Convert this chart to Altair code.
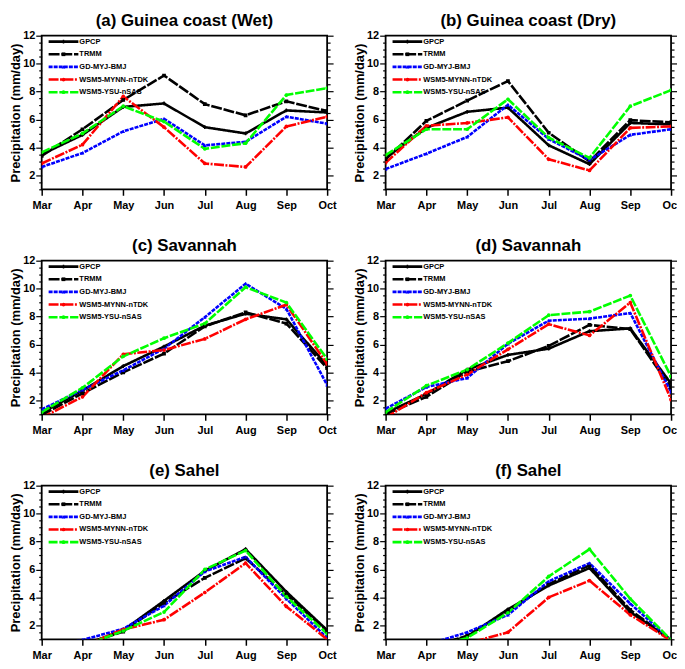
import altair as alt
import pandas as pd

months = ["Mar", "Apr", "May", "Jun", "Jul", "Aug", "Sep", "Oct"]
series = ["GPCP", "TRMM", "GD-MYJ-BMJ", "WSM5-MYNN-nTDK", "WSM5-YSU-nSAS"]
colors = ["#000000", "#000000", "#0000FF", "#FF0000", "#00FF00"]
dashes = [[1, 0], [11, 1.8], [4, 1.1], [10, 1.5, 2, 1.5], [9, 1.8]]
shapes = ["cross", "square", "triangle-up", "circle", "circle"]
widths = [2.6, 2.6, 2.2, 2.2, 2.2]

titles = ["(a) Guinea coast (Wet)", "(b) Guinea coast (Dry)", "(c) Savannah",
          "(d) Savannah", "(e) Sahel", "(f) Sahel"]

# values (mm/day), order: Mar..Oct
a_gpcp = [3.5, 4.9, 6.9, 7.15, 5.45, 5.0, 6.65, 6.5]
a_trmm = [3.4, 5.3, 7.4, 9.15, 7.1, 6.3, 7.3, 6.6]
a_gd = [2.6, 3.6, 5.15, 6.05, 4.15, 4.4, 6.2, 5.7]
a_mynn = [2.85, 4.2, 7.65, 5.45, 2.85, 2.6, 5.5, 6.2]
a_ysu = [3.65, 5.0, 6.95, 5.85, 3.9, 4.3, 7.75, 8.25]

b_gpcp = [3.25, 5.4, 6.55, 6.85, 4.15, 2.8, 5.75, 5.65]
b_trmm = [3.15, 5.9, 7.35, 8.75, 5.05, 3.0, 5.95, 5.8]
b_gd = [2.45, 3.55, 4.75, 7.05, 4.6, 3.1, 4.9, 5.3]
b_mynn = [2.9, 5.55, 5.75, 6.15, 3.15, 2.35, 5.4, 5.5]
b_ysu = [3.45, 5.3, 5.3, 7.45, 4.7, 3.25, 6.95, 8.1]

c_gpcp = [1.1, 2.7, 4.45, 5.85, 7.35, 8.2, 7.8, 4.5]
c_trmm = [0.95, 2.5, 4.0, 5.35, 7.3, 8.3, 7.5, 4.3]
c_gd = [1.35, 2.75, 4.15, 5.7, 7.95, 10.35, 8.55, 3.1]
c_mynn = [0.75, 2.25, 5.3, 5.6, 6.4, 7.8, 8.85, 4.6]
c_ysu = [1.15, 2.9, 5.15, 6.45, 7.5, 10.1, 9.0, 4.95]

d_gpcp = [1.1, 2.45, 4.2, 5.25, 5.7, 6.95, 7.15, 3.2]
d_trmm = [1.0, 2.25, 4.05, 4.8, 5.9, 7.4, 7.1, 2.9]
d_gd = [1.4, 2.95, 3.6, 6.05, 7.7, 7.85, 8.25, 2.6]
d_mynn = [0.75, 2.55, 3.85, 5.65, 7.45, 6.65, 9.0, 2.05]
d_ysu = [1.15, 3.05, 4.2, 6.1, 8.1, 8.35, 9.5, 3.7]

e_gpcp = [0.3, 0.55, 1.65, 3.75, 5.9, 7.45, 4.4, 1.65]
e_trmm = [0.3, 0.6, 1.55, 3.6, 5.4, 6.8, 4.2, 1.6]
e_gd = [0.5, 0.95, 1.75, 3.4, 5.85, 6.9, 3.9, 1.1]
e_mynn = [0.3, 0.5, 1.7, 2.4, 4.35, 6.45, 3.35, 1.0]
e_ysu = [0.3, 0.5, 1.6, 2.95, 6.0, 7.35, 4.05, 1.4]

f_gpcp = [0.2, 0.35, 1.2, 3.15, 4.85, 6.1, 2.95, 0.95]
f_trmm = [0.2, 0.35, 1.25, 3.0, 4.95, 6.3, 3.1, 0.95]
f_gd = [0.3, 0.6, 1.5, 2.75, 5.15, 6.45, 3.55, 0.95]
f_mynn = [0.2, 0.4, 0.7, 1.5, 4.0, 5.2, 2.75, 0.9]
f_ysu = [0.2, 0.35, 1.1, 2.9, 5.5, 7.45, 3.9, 0.95]

panels = [
    [a_gpcp, a_trmm, a_gd, a_mynn, a_ysu],
    [b_gpcp, b_trmm, b_gd, b_mynn, b_ysu],
    [c_gpcp, c_trmm, c_gd, c_mynn, c_ysu],
    [d_gpcp, d_trmm, d_gd, d_mynn, d_ysu],
    [e_gpcp, e_trmm, e_gd, e_mynn, e_ysu],
    [f_gpcp, f_trmm, f_gd, f_mynn, f_ysu],
]

y_ticks = [1 + 0.5 * i for i in range(23)]
FONT = "Liberation Sans"

color_scale = alt.Scale(domain=series, range=colors)
dash_scale = alt.Scale(domain=series, range=dashes)
shape_scale = alt.Scale(domain=series, range=shapes)
width_scale = alt.Scale(domain=series, range=widths)
y_scale = alt.Scale(domain=[1, 12], nice=False, zero=False)
x_scale = alt.Scale(domain=months, padding=0)

legend_df = pd.DataFrame({"series": series})

W, H = 288, 155
TICK = {"condition": {"test": "datum.value % 2 === 0", "value": 6}, "value": 3}


def make_panel(title, vals):
    rows = []
    for s, arr in zip(series, vals):
        for m, v in zip(months, arr):
            rows.append({"month": m, "series": s, "value": v})
    df = pd.DataFrame(rows)
    base = alt.Chart(df)
    x_enc = alt.X("month:N", scale=x_scale, sort=months,
                  axis=alt.Axis(title=None, labelAngle=0, domain=False, grid=False,
                                tickSize=6, tickWidth=1.5, tickColor="black",
                                labelPadding=4, labelFontSize=11,
                                labelFontWeight="bold", labelFont=FONT,
                                labelColor="black"))
    lines = base.mark_line(clip=True).encode(
        x=x_enc,
        y=alt.Y("value:Q", scale=y_scale,
                axis=alt.Axis(title="Precipitation (mm/day)", orient="left",
                              values=y_ticks, domain=False, grid=False,
                              labelExpr="datum.value % 2 === 0 ? '' + datum.value : ''",
                              tickSize=TICK,
                              tickWidth=1.2, tickColor="black",
                              labelPadding=1, labelFontSize=11,
                              labelFontWeight="bold", labelFont=FONT,
                              labelColor="black", titleFontSize=13,
                              titleFontWeight="bold", titleFont=FONT,
                              titleColor="black", titlePadding=0)),
        color=alt.Color("series:N", scale=color_scale, legend=None),
        strokeDash=alt.StrokeDash("series:N", scale=dash_scale, legend=None),
        strokeWidth=alt.StrokeWidth("series:N", scale=width_scale, legend=None),
        detail="series:N",
    )
    pts = base.mark_point(clip=True, filled=True, size=14, opacity=1).encode(
        x=alt.X("month:N", scale=x_scale, sort=months),
        y=alt.Y("value:Q", scale=y_scale, axis=None),
        color=alt.Color("series:N", scale=color_scale, legend=None),
        shape=alt.Shape("series:N", scale=shape_scale, legend=None),
    )
    right = base.mark_point(opacity=0).encode(
        x=alt.X("month:N", scale=x_scale, sort=months),
        y=alt.Y("value:Q", scale=y_scale,
                axis=alt.Axis(title=None, orient="right", values=y_ticks,
                              labels=False, domain=False, grid=False,
                              tickSize=TICK,
                              tickWidth=1.2, tickColor="black")),
    )
    leg_y = alt.Y("series:N", sort=series,
                  scale=alt.Scale(type="point", domain=series, range=[6, 57], padding=0),
                  axis=None)
    leg_base = alt.Chart(legend_df)
    leg_rule = leg_base.mark_rule().encode(
        x=alt.value(7), x2=alt.value(37), y=leg_y,
        color=alt.Color("series:N", scale=color_scale, legend=None),
        strokeDash=alt.StrokeDash("series:N", scale=dash_scale, legend=None),
        strokeWidth=alt.StrokeWidth("series:N", scale=width_scale, legend=None),
    )
    leg_pts = leg_base.mark_point(filled=True, size=14, opacity=1).encode(
        x=alt.value(22), y=leg_y,
        color=alt.Color("series:N", scale=color_scale, legend=None),
        shape=alt.Shape("series:N", scale=shape_scale, legend=None),
    )
    leg_text = leg_base.mark_text(align="left", baseline="middle", fontSize=7.5,
                                  fontWeight="bold", font=FONT, color="black").encode(
        x=alt.value(38), y=leg_y, text="series:N",
    )
    return alt.layer(lines, pts, right, leg_rule, leg_pts, leg_text).resolve_scale(
        y="independent"
    ).properties(
        width=W, height=H,
        title=alt.TitleParams(title, fontSize=17, fontWeight="bold", font=FONT,
                              color="black", offset=0, frame="group", anchor="middle"),
    )


charts = [make_panel(t, v) for t, v in zip(titles, panels)]

chart = alt.concat(*charts, columns=2, spacing={"row": 72, "column": 59},
                   bounds="flush").properties(
    padding={"left": 0, "top": 0, "right": -5, "bottom": 0}
).configure_view(
    stroke="black", strokeWidth=1.8
)

chart.save("out.html", embed_options={"renderer": "svg", "actions": False})
